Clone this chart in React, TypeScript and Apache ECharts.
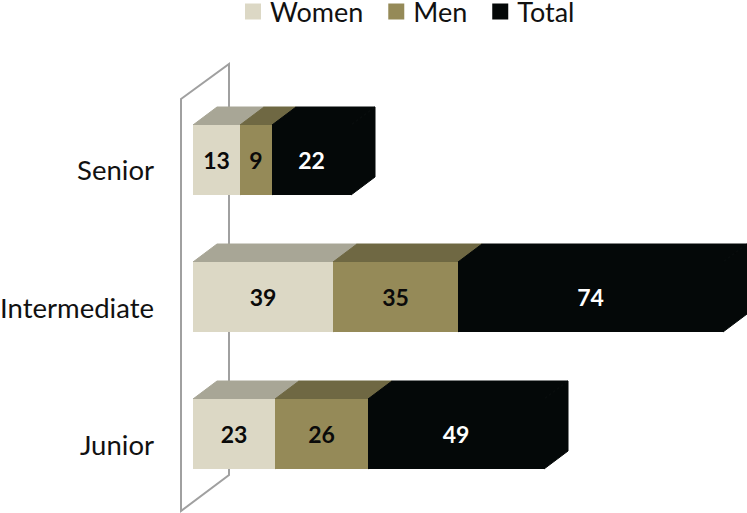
import React, { useEffect, useRef } from "react";
import * as echarts from "echarts";

const categories = ["Senior", "Intermediate", "Junior"];
const women = [13, 39, 23];
const men = [9, 35, 26];
const total = [22, 74, 49];

const DX = 24;
const DY = 18;
const FONT = "Lato, Carlito, sans-serif";

function buildSeries(name: string, values: number[], before: number[][], front: string, top: string, labelColor: string) {
  const data = values.map((v, i) => {
    const start = before.reduce((s, arr) => s + arr[i], 0);
    return [start, start + v, i, v];
  });
  return {
    type: "custom",
    name,
    itemStyle: { color: front },
    encode: { x: [0, 1], y: 2 },
    data,
    renderItem: (_p: any, api: any) => {
      const a = api.coord([api.value(0), api.value(2)]);
      const b = api.coord([api.value(1), api.value(2)]);
      const h = api.size([0, 1])[1] * 0.512;
      const x0 = Math.round(a[0]);
      const x1 = Math.round(b[0]);
      const y0 = Math.round(a[1] - h / 2);
      const y1 = Math.round(a[1] + h / 2);
      return {
        type: "group",
        children: [
          {
            type: "polygon",
            shape: { points: [[x1, y0], [x1 + DX, y0 - DY], [x1 + DX, y1 - DY], [x1, y1]] },
            style: { fill: top, stroke: top, lineWidth: 1 },
          },
          {
            type: "polygon",
            shape: { points: [[x0, y0], [x0 + DX, y0 - DY], [x1 + DX, y0 - DY], [x1, y0]] },
            style: { fill: top, stroke: top, lineWidth: 1 },
          },
          { type: "rect", shape: { x: x0, y: y0, width: x1 - x0, height: y1 - y0 }, style: { fill: front } },
          {
            type: "text",
            style: {
              x: (x0 + x1) / 2,
              y: (y0 + y1) / 2,
              text: String(api.value(3)),
              align: "center",
              verticalAlign: "middle",
              fill: labelColor,
              font: `bold 23px ${FONT}`,
            },
          },
        ],
      };
    },
  };
}

export default function App() {
  const ref = useRef<HTMLDivElement>(null);
  useEffect(() => {
    document.body.style.margin = "0";
    const chart = echarts.init(ref.current!, undefined, { renderer: "svg" });
    chart.setOption({
      animation: false,
      backgroundColor: "#ffffff",
      legend: {
        left: 245,
        top: -2,
        padding: 0,
        itemWidth: 16,
        itemHeight: 16,
        itemGap: 25,
        icon: "rect",
        textStyle: { fontFamily: FONT, fontSize: 27, lineHeight: 24, color: "#111111", padding: [0, 0, 0, 4] },
        data: ["Women", "Men", "Total"],
      },
      grid: { left: 193, width: 530, top: 91, height: 412, outerBoundsMode: "none", containLabel: false },
      xAxis: { type: "value", min: 0, max: 148, show: false },
      yAxis: {
        type: "category",
        inverse: true,
        data: categories,
        axisLine: { show: false },
        axisTick: { show: false },
        axisLabel: {
          fontFamily: FONT,
          fontSize: 27.5,
          color: "#111111",
          margin: 39,
          verticalAlign: "top",
          lineHeight: 20,
          hideOverlap: false,
        },
      },
      graphic: [
        {
          type: "polygon",
          silent: true,
          z: -1,
          shape: { points: [[181, 99], [229, 64], [229, 475], [181, 511]] },
          style: { fill: "none", stroke: "#a0a0a0", lineWidth: 2 },
        },
      ],
      series: [
        buildSeries("Women", women, [], "#dcd8c5", "#a8a696", "#0a0a0a"),
        buildSeries("Men", men, [women], "#958a58", "#6f6843", "#0a0a0a"),
        buildSeries("Total", total, [women, men], "#040808", "#040808", "#ffffff"),
      ],
    });
    return () => chart.dispose();
  }, []);
  return <div ref={ref} style={{ width: 747, height: 513 }} />;
}
